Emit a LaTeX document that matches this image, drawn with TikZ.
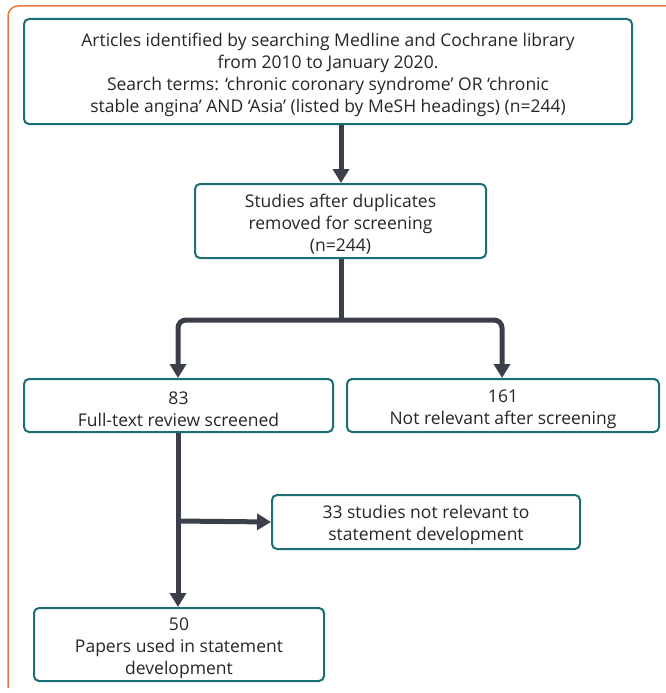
\documentclass[tikz,border=0pt]{standalone}
\usepackage{fontspec}
\setmainfont{Open Sans}
\usetikzlibrary{arrows.meta}
\definecolor{boxteal}{HTML}{1B6E73}
\definecolor{flowgrey}{HTML}{3B3F4A}
\definecolor{frameorange}{HTML}{E8783F}
\newcommand{\topgap}{\rule{0pt}{20pt}}
\tikzset{
  stage/.style = {draw=boxteal, line width=2pt, rounded corners=5pt, align=center,
    inner sep=0pt, font=\fontsize{17.5}{22}\selectfont, text=black!85},
  flow/.style = {draw=flowgrey, line width=5pt,
    -{Triangle[width=16pt,length=14pt]}, rounded corners=8pt},
}
\begin{document}
\begin{tikzpicture}[x=1pt,y=-1pt]
  \useasboundingbox (0,0) rectangle (666,693);
  \draw[frameorange, line width=1.5pt, rounded corners=10pt] (8,688) |- (666,6);
  % boxes
  \node[stage, minimum width=608pt, minimum height=105pt] (search) at (328,71.5)
    {\topgap Articles identified by searching Medline and Cochrane library\\
     from 2010 to January 2020.\\
     Search terms: `chronic coronary syndrome' OR `chronic\\
     stable angina' AND `Asia' (listed by MeSH headings) (n=244)};
  \node[stage, minimum width=291pt, minimum height=74pt] (dedup) at (340.5,221)
    {\topgap Studies after duplicates\\ removed for screening\\ (n=244)};
  \node[stage, minimum width=309pt, minimum height=53pt] (fulltext) at (178.5,405.5)
    {\topgap 83\\ Full-text review screened};
  \node[stage, minimum width=312pt, minimum height=53pt] (notrel) at (503,405.5)
    {\topgap 161\\ Not relevant after screening};
  \node[stage, minimum width=308pt, minimum height=54pt] (excl) at (426,522)
    {\topgap 33 studies not relevant to\\ statement development};
  \node[stage, minimum width=290pt, minimum height=73pt] (used) at (179,644.5)
    {\topgap 50\\ Papers used in statement\\ development};
  %
  \coordinate (split) at (341,320);
  \coordinate (branch) at (178,521);
  \draw[flow] (search.south -| split) -- (dedup.north -| split);
  \draw[flow, -] (dedup.south -| split) -- (split);
  \draw[flow] (split) -| (fulltext.north -| branch);
  \draw[flow] (split) -| (notrel.north -| 502,0);
  \draw[flow, -] (fulltext.south -| branch) -- (branch);
  \draw[flow] (branch) -- (excl.west);
  \draw[flow] (branch) -- (used.north -| branch);
\end{tikzpicture}
\end{document}
